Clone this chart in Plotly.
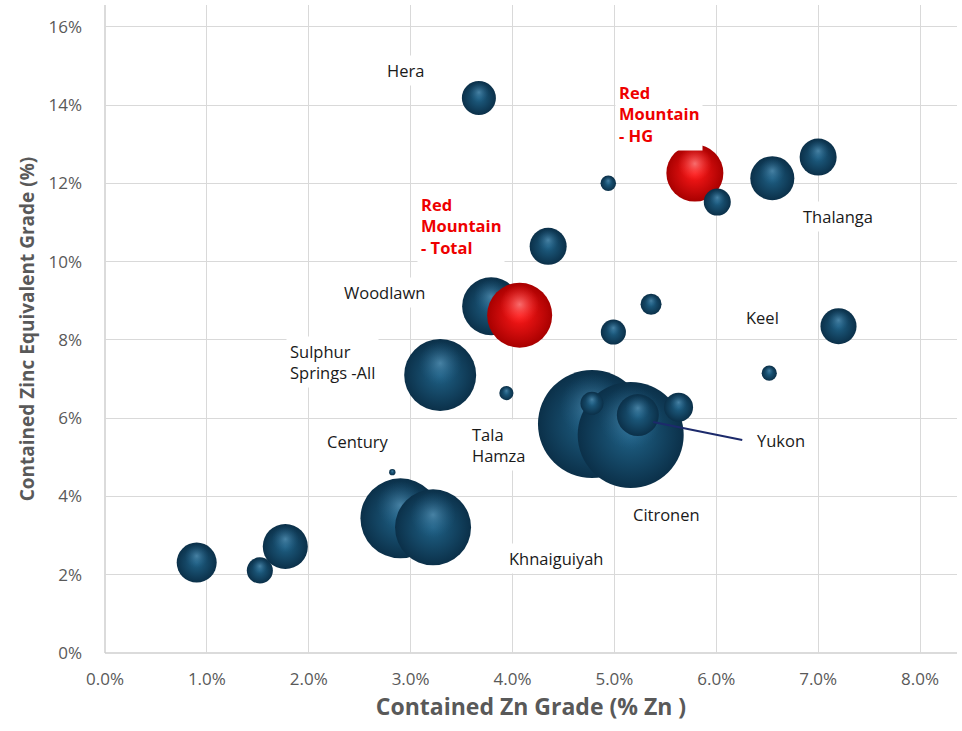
import numpy as np
import plotly.graph_objects as go

# ---------------- data ----------------
names = ["Citronen A", "Citronen B", "Khnaiguiyah A", "Khnaiguiyah B", "Sulphur Springs - All",
         "Woodlawn", "Red Mountain - Total", "Red Mountain - HG", "Deposit 9", "Deposit 10",
         "Thalanga", "Hera", "Deposit 13", "Deposit 14", "Deposit 15", "Deposit 16", "Keel",
         "Deposit 18", "Tala Hamza", "Deposit 20", "Deposit 21", "Yukon", "Century",
         "Deposit 24", "Deposit 25", "Deposit 26"]
zn_grade = [0.0478, 0.0516, 0.0290, 0.0322, 0.0329, 0.0379, 0.0407, 0.0579, 0.0601, 0.0655,
            0.0700, 0.0367, 0.0494, 0.0435, 0.0536, 0.0499, 0.0720, 0.0652, 0.0394, 0.0478,
            0.0523, 0.0563, 0.0282, 0.0177, 0.0152, 0.0090]
zneq_grade = [0.0585, 0.0557, 0.0344, 0.0321, 0.0710, 0.0886, 0.0863, 0.1226, 0.1152, 0.1213,
              0.1267, 0.1418, 0.1200, 0.1039, 0.0891, 0.0820, 0.0835, 0.0715, 0.0664, 0.0638,
              0.0608, 0.0628, 0.0462, 0.0272, 0.0211, 0.0231]
bubble_size = [116.6, 112.4, 64.0, 57.8, 51.8, 33.6, 42.3, 32.5, 7.3, 19.4,
               13.7, 11.6, 2.4, 13.7, 4.4, 6.3, 13.0, 2.3, 2.0, 5.3,
               17.6, 8.4, 0.4, 20.3, 6.8, 16.0]
is_red_mountain = [n.startswith("Red Mountain") for n in names]

x_ticks = [0.0, 0.01, 0.02, 0.03, 0.04, 0.05, 0.06, 0.07, 0.08]
y_ticks = [0.0, 0.02, 0.04, 0.06, 0.08, 0.10, 0.12, 0.14, 0.16]

# ---------------- layout constants ----------------
W, H = 962, 731
M_L, M_R, M_T, M_B = 105, 5, 5, 78
X_MAX, Y_MAX = 0.08363, 0.16555
plot_h = H - M_T - M_B
px_per_y = plot_h / Y_MAX

diam = 10.0 * np.sqrt(np.array(bubble_size))  # pixel diameter, area proportional to value

edge_cols = ["#a80000" if r else "#0b3049" for r in is_red_mountain]
center_cols = ["#ff1a1a" if r else "#1f6186" for r in is_red_mountain]
hl_center = ["rgba(255,140,140,0.75)" if r else "rgba(110,170,205,0.55)" for r in is_red_mountain]
hl_edge = ["rgba(255,60,60,0)" if r else "rgba(40,100,140,0)" for r in is_red_mountain]

fig = go.Figure()

# draw each bubble with its highlight so that overlap order is kept
for i in range(len(names)):
    d = diam[i]
    fig.add_trace(go.Scatter(
        x=[zn_grade[i]], y=[zneq_grade[i]], mode="markers", name=names[i],
        marker=dict(size=d, color=edge_cols[i], line=dict(width=0),
                    gradient=dict(type="radial", color=center_cols[i]), opacity=1),
        hoverinfo="text", text=[names[i]], showlegend=False))
    fig.add_trace(go.Scatter(
        x=[zn_grade[i]], y=[zneq_grade[i] + 0.33 * (d / 2) / px_per_y], mode="markers",
        marker=dict(size=d * 0.6, color=hl_edge[i], line=dict(width=0),
                    gradient=dict(type="radial", color=hl_center[i])),
        hoverinfo="skip", showlegend=False))

# ---------------- labels ----------------
lab_font = dict(family="Open Sans", size=16.5, color="#1a1a1a")
red_font = dict(family="Open Sans", size=16.5, color="#ee0000")
labels = [
    ("Hera", 0.02945, 0.1487, "center", lab_font),
    ("<b>Red<br>Mountain<br>- HG</b>", 0.05006, 0.1378, "left", red_font),
    ("<b>Red<br>Mountain<br>- Total</b>", 0.03063, 0.1092, "left", red_font),
    ("Woodlawn", 0.02748, 0.0922, "center", lab_font),
    ("Thalanga", 0.07195, 0.1116, "center", lab_font),
    ("Keel", 0.06449, 0.0858, "center", lab_font),
    ("Sulphur<br>Springs -All", 0.01777, 0.0743, "left", lab_font),
    ("Century", 0.02483, 0.0541, "center", lab_font),
    ("Tala<br>Hamza", 0.03563, 0.0531, "left", lab_font),
    ("Yukon", 0.06361, 0.0544, "left", lab_font),
    ("Citronen", 0.05507, 0.0354, "center", lab_font),
    ("Khnaiguiyah", 0.04427, 0.0242, "center", lab_font),
]
annotations = []
for txt, lx, ly, anchor, fnt in labels:
    annotations.append(dict(x=lx, y=ly, xref="x", yref="y", text=txt, showarrow=False,
                            xanchor=anchor, yanchor="middle", align=anchor,
                            font=fnt, bgcolor="white", borderpad=3))

# Yukon leader line (from the Yukon cluster to its label)
yukon_i = names.index("Yukon")
fig.add_shape(type="line", xref="x", yref="y",
              x0=zn_grade[yukon_i] - 0.0025, y0=zneq_grade[yukon_i] - 0.0038,
              x1=0.06255, y1=0.0544, line=dict(color="#1c2a6b", width=2))

tick_font = dict(family="Open Sans", size=17, color="#595959")
axis_common = dict(showgrid=True, gridcolor="#d9d9d9", gridwidth=1, zeroline=False,
                   showline=False, ticks="", tickfont=tick_font, automargin=False)

fig.update_layout(
    width=W, height=H, margin=dict(l=M_L, r=M_R, t=M_T, b=M_B),
    paper_bgcolor="white", plot_bgcolor="white",
    annotations=annotations,
    xaxis=dict(range=[0, X_MAX], tickvals=x_ticks, tickformat=".1%", ticklabelstandoff=14,
               title=dict(text="<b>Contained Zn Grade (% Zn )</b>",
                          font=dict(family="Open Sans", size=23, color="#595959"), standoff=0),
               **axis_common),
    yaxis=dict(range=[0, Y_MAX], tickvals=y_ticks, tickformat=".0%", ticklabelstandoff=22,
               title=dict(text="<b>Contained Zinc Equivalent Grade (%)</b>",
                          font=dict(family="Open Sans", size=19, color="#595959"), standoff=8),
               **axis_common),
)
# axis base lines
fig.add_shape(type="line", xref="paper", yref="paper", x0=0, x1=1, y0=0, y1=0,
              line=dict(color="#cfcfcf", width=1.5), layer="below")
fig.add_shape(type="line", xref="paper", yref="paper", x0=0, x1=0, y0=0, y1=1,
              line=dict(color="#cfcfcf", width=1.5), layer="below")

fig.write_html("out.html")
